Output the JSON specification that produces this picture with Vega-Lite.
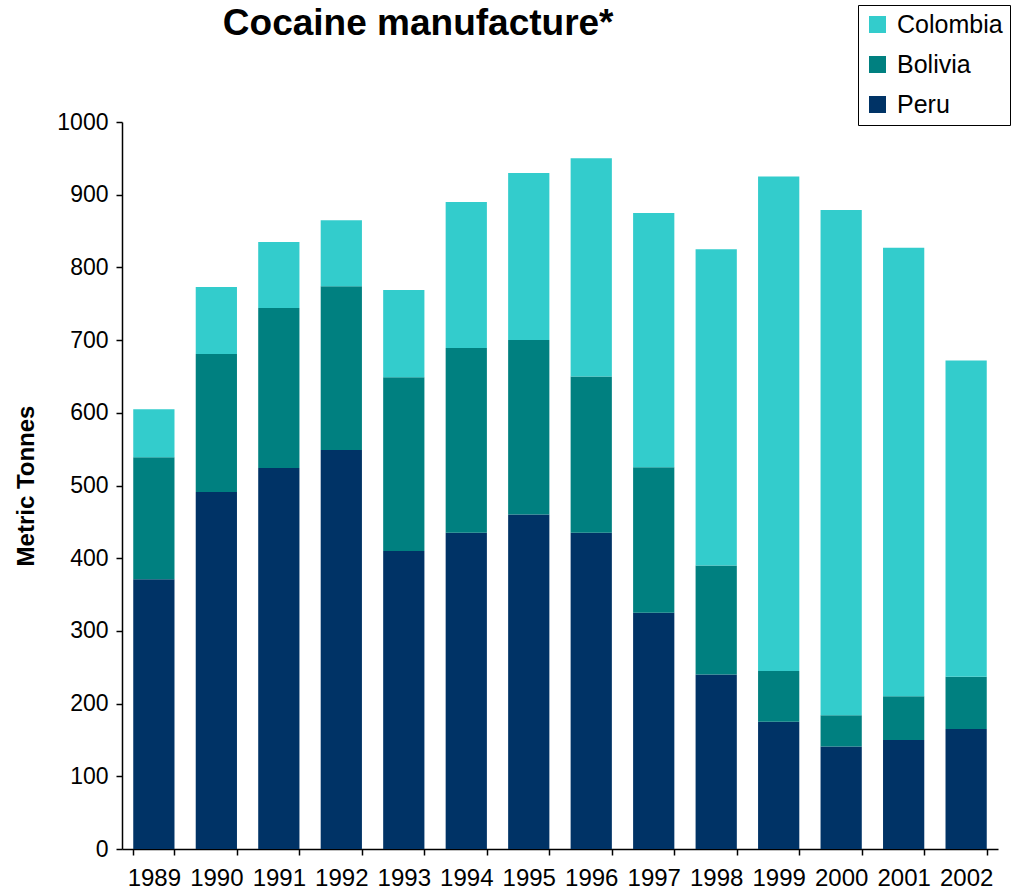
{
  "$schema": "https://vega.github.io/schema/vega-lite/v6.json",
  "autosize": {"type": "none"},
  "width": 876,
  "height": 727,
  "padding": {"left": 122, "top": 122, "right": 20, "bottom": 46},
  "background": "white",
  "title": {
    "text": "Cocaine manufacture*",
    "anchor": "start",
    "dx": 208,
    "offset": 0,
    "dy": 38,
    "font": "Liberation Sans",
    "fontSize": 37,
    "fontWeight": "bold",
    "color": "black"
  },
  "config": {
    "view": {"stroke": null},
    "font": "Liberation Sans"
  },
  "data": {
    "values": [
      {"year": "1989", "country": "Peru", "value": 371},
      {"year": "1989", "country": "Bolivia", "value": 168},
      {"year": "1989", "country": "Colombia", "value": 66},
      {"year": "1990", "country": "Peru", "value": 491},
      {"year": "1990", "country": "Bolivia", "value": 190},
      {"year": "1990", "country": "Colombia", "value": 92},
      {"year": "1991", "country": "Peru", "value": 524},
      {"year": "1991", "country": "Bolivia", "value": 220},
      {"year": "1991", "country": "Colombia", "value": 91},
      {"year": "1992", "country": "Peru", "value": 549},
      {"year": "1992", "country": "Bolivia", "value": 225},
      {"year": "1992", "country": "Colombia", "value": 91},
      {"year": "1993", "country": "Peru", "value": 410},
      {"year": "1993", "country": "Bolivia", "value": 239},
      {"year": "1993", "country": "Colombia", "value": 120},
      {"year": "1994", "country": "Peru", "value": 435},
      {"year": "1994", "country": "Bolivia", "value": 254},
      {"year": "1994", "country": "Colombia", "value": 201},
      {"year": "1995", "country": "Peru", "value": 460},
      {"year": "1995", "country": "Bolivia", "value": 240},
      {"year": "1995", "country": "Colombia", "value": 230},
      {"year": "1996", "country": "Peru", "value": 435},
      {"year": "1996", "country": "Bolivia", "value": 215},
      {"year": "1996", "country": "Colombia", "value": 300},
      {"year": "1997", "country": "Peru", "value": 325},
      {"year": "1997", "country": "Bolivia", "value": 200},
      {"year": "1997", "country": "Colombia", "value": 350},
      {"year": "1998", "country": "Peru", "value": 240},
      {"year": "1998", "country": "Bolivia", "value": 150},
      {"year": "1998", "country": "Colombia", "value": 435},
      {"year": "1999", "country": "Peru", "value": 175},
      {"year": "1999", "country": "Bolivia", "value": 70},
      {"year": "1999", "country": "Colombia", "value": 680},
      {"year": "2000", "country": "Peru", "value": 141},
      {"year": "2000", "country": "Bolivia", "value": 43},
      {"year": "2000", "country": "Colombia", "value": 695},
      {"year": "2001", "country": "Peru", "value": 150},
      {"year": "2001", "country": "Bolivia", "value": 60},
      {"year": "2001", "country": "Colombia", "value": 617},
      {"year": "2002", "country": "Peru", "value": 165},
      {"year": "2002", "country": "Bolivia", "value": 72},
      {"year": "2002", "country": "Colombia", "value": 435}
    ]
  },
  "transform": [
    {"calculate": "indexof(['Peru','Bolivia','Colombia'], datum.country)", "as": "stackOrder"}
  ],
  "mark": {"type": "bar"},
  "encoding": {
    "x": {
      "field": "year",
      "type": "ordinal",
      "scale": {"paddingInner": 0.34, "paddingOuter": 0.18},
      "axis": {
        "title": null,
        "labelAngle": 0,
        "labelFontSize": 24,
        "labelColor": "black",
        "labelPadding": 11,
        "tickBand": "extent",
        "tickSize": 6,
        "tickColor": "black",
        "domainColor": "black",
        "domainWidth": 1.5,
        "tickWidth": 1.5
      }
    },
    "y": {
      "field": "value",
      "type": "quantitative",
      "stack": "zero",
      "scale": {"domain": [0, 1000], "nice": false},
      "axis": {
        "title": "Metric Tonnes",
        "titleFontSize": 24,
        "titleFontWeight": "bold",
        "titleColor": "black",
        "titlePadding": 18,
        "format": "d",
        "values": [0, 100, 200, 300, 400, 500, 600, 700, 800, 900, 1000],
        "grid": false,
        "labelFontSize": 23,
        "labelColor": "black",
        "labelPadding": 8,
        "tickSize": 6,
        "tickColor": "black",
        "domainColor": "black",
        "domainWidth": 1.5,
        "tickWidth": 1.5
      }
    },
    "color": {
      "field": "country",
      "type": "nominal",
      "scale": {
        "domain": ["Colombia", "Bolivia", "Peru"],
        "range": ["#33CCCC", "#008080", "#003366"]
      },
      "legend": {
        "title": null,
        "orient": "none",
        "legendX": 736,
        "legendY": -117,
        "fillColor": "white",
        "strokeColor": "black",
        "padding": 7,
        "symbolType": "square",
        "symbolSize": 289,
        "symbolStrokeWidth": 0,
        "symbolOpacity": 1,
        "labelFontSize": 25,
        "labelColor": "black",
        "labelOffset": 7,
        "rowPadding": 14
      }
    },
    "order": {"field": "stackOrder", "type": "quantitative", "sort": "ascending"}
  }
}
